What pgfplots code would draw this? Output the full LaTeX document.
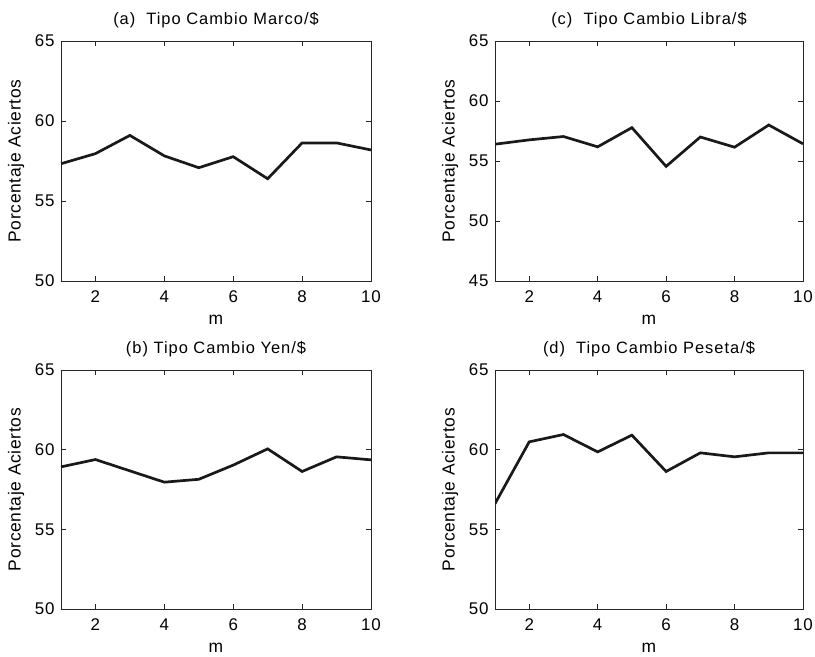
\documentclass[border=0pt]{standalone}
\usepackage{pgfplots}
\pgfplotsset{compat=1.18}
\usepackage{fontspec}
\setmainfont[LetterSpace=4]{Liberation Sans}
\newfontfamily\titlefont[LetterSpace=6]{Liberation Sans}
\pgfplotsset{
  mystyle/.style={
    scale only axis,
    xmin=1, xmax=10,
    xtick={2,4,6,8,10},
    tick align=inside,
    major tick length=5bp,
    axis line style={line width=0.6pt, black!85},
    tick style={line width=0.5pt, black!85},
    ticklabel style={font=\fontsize{17}{19}\selectfont},
    xticklabel style={yshift=-6bp},
    yticklabel style={xshift=-3bp},
    label style={font=\fontsize{17.5}{20}\selectfont},
    xlabel style={yshift=-6bp},
    ylabel style={yshift=4bp},
    title style={font=\titlefont\fontsize{16.5}{18}\selectfont, yshift=4bp},
    xlabel={m},
    ylabel={Porcentaje Aciertos},
    /pgf/number format/assume math mode=true,
  },
  ln/.style={black!90, line width=2.7pt, no marks, line join=miter}
}
\begin{document}
\begin{tikzpicture}
\useasboundingbox (0,0) rectangle (815bp,657bp);
\begin{axis}[mystyle, at={(61bp,376bp)}, anchor=south west, width=310bp, height=240bp,
  ymin=50, ymax=65, ytick={50,55,60,65}, title={(a)\ \ Tipo Cambio Marco/\$}]
\addplot[ln] coordinates {(1,57.33) (2,57.96) (3,59.10) (4,57.82) (5,57.08) (6,57.77) (7,56.39) (8,58.63) (9,58.63) (10,58.19)};
\end{axis}
\begin{axis}[mystyle, at={(495bp,376bp)}, anchor=south west, width=308bp, height=240bp,
  ymin=45, ymax=65, ytick={45,50,55,60,65}, title={(c)\ \ Tipo Cambio Libra/\$}]
\addplot[ln] coordinates {(1,56.40) (2,56.76) (3,57.04) (4,56.18) (5,57.78) (6,54.55) (7,57.00) (8,56.15) (9,58.00) (10,56.43)};
\end{axis}
\begin{axis}[mystyle, at={(61bp,48bp)}, anchor=south west, width=310bp, height=239bp,
  ymin=50, ymax=65, ytick={50,55,60,65}, title={(b) Tipo Cambio Yen/\$}]
\addplot[ln] coordinates {(1,58.92) (2,59.38) (3,58.67) (4,57.96) (5,58.14) (6,59.03) (7,60.05) (8,58.63) (9,59.55) (10,59.36)};
\end{axis}
\begin{axis}[mystyle, at={(495bp,48bp)}, anchor=south west, width=308bp, height=239bp,
  ymin=50, ymax=65, ytick={50,55,60,65}, title={(d)\ \ Tipo Cambio Peseta/\$}]
\addplot[ln] coordinates {(1,56.61) (2,60.49) (3,60.95) (4,59.86) (5,60.91) (6,58.63) (7,59.80) (8,59.55) (9,59.80) (10,59.80)};
\end{axis}
\end{tikzpicture}
\end{document}
